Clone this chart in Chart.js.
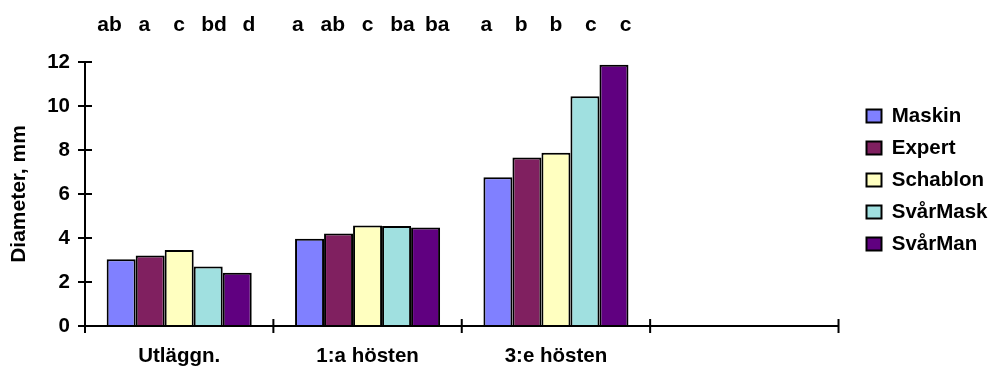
<!DOCTYPE html>
<html>
<head>
<meta charset="utf-8">
<script src="https://cdn.jsdelivr.net/npm/chart.js@4"></script>
<style>
  html, body { margin: 0; padding: 0; background: #fff; }
  #wrap { width: 992px; height: 371px; }
</style>
</head>
<body>
<div id="wrap"><canvas id="c" width="992" height="371"></canvas></div>
<script>
const categories = ['Utläggn.', '1:a hösten', '3:e hösten', ''];
const seriesNames = ['Maskin', 'Expert', 'Schablon', 'SvårMask', 'SvårMan'];
const maskin   = [3.03, 3.97, 6.76, null];
const expert   = [3.21, 4.21, 7.66, null];
const schablon = [3.45, 4.57, 7.87, null];
const svarMask = [2.70, 4.54, 10.44, null];
const svarMan  = [2.42, 4.48, 11.88, null];
const lettersUtlaggn = ['ab', 'a', 'c', 'bd', 'd'];
const letters1aHosten = ['a', 'ab', 'c', 'ba', 'ba'];
const letters3eHosten = ['a', 'b', 'b', 'c', 'c'];
const yTicks = [0, 2, 4, 6, 8, 10, 12];

const seriesValues = [maskin, expert, schablon, svarMask, svarMan];
const seriesColors = ['#8080FF', '#802060', '#FFFFC0', '#A0E0E0', '#600080'];
const groupLetters = [lettersUtlaggn, letters1aHosten, letters3eHosten];

const FONT = "'Liberation Sans', Arial, sans-serif";
const FS = 20.5;

// Axis lines with tick marks that cross the axis, Excel style
const axesPlugin = {
  id: 'crossAxes',
  afterDatasetsDraw(chart) {
    const { ctx, chartArea, scales } = chart;
    const x = scales.x, y = scales.y;
    const y0 = y.getPixelForValue(0);
    ctx.save();
    ctx.strokeStyle = '#000';
    ctx.lineWidth = 2;
    ctx.beginPath();
    ctx.moveTo(chartArea.left, chartArea.top);
    ctx.lineTo(chartArea.left, chartArea.bottom);
    ctx.moveTo(chartArea.left, y0);
    ctx.lineTo(chartArea.right, y0);
    yTicks.forEach(v => {
      const py = y.getPixelForValue(v);
      ctx.moveTo(chartArea.left - 7, py);
      ctx.lineTo(chartArea.left + 7, py);
    });
    const n = categories.length;
    const step = x.getPixelForValue(1) - x.getPixelForValue(0);
    for (let i = 0; i <= n; i++) {
      const px = i < n ? x.getPixelForValue(i) - step / 2 : chartArea.right;
      ctx.moveTo(px, y0 - 7);
      ctx.lineTo(px, y0 + 7);
    }
    ctx.stroke();
    ctx.restore();
  }
};

// Significance letters above each group
const lettersPlugin = {
  id: 'sigLetters',
  afterDatasetsDraw(chart) {
    const { ctx } = chart;
    ctx.save();
    ctx.font = `bold 21px ${FONT}`;
    ctx.fillStyle = '#000';
    ctx.textAlign = 'center';
    ctx.textBaseline = 'alphabetic';
    groupLetters.forEach((letters, g) => {
      const xs = letters.map((_, s) => chart.getDatasetMeta(s).data[g].x);
      const center = (xs[0] + xs[xs.length - 1]) / 2;
      letters.forEach((t, s) => {
        ctx.fillText(t, center + (xs[s] - center) * 1.2, 31);
      });
    });
    ctx.restore();
  }
};

// Place the legend block beside the plot, a little above centre
const legendPlace = {
  id: 'legendPlace',
  afterLayout(chart) {
    const L = chart.legend;
    if (!L) return;
    const h = L.bottom - L.top;
    const w = L.right - L.left;
    L.top = 180 - h / 2;
    L.bottom = L.top + h;
    L.left = 855;
    L.right = L.left + w;
  }
};

new Chart(document.getElementById('c'), {
  type: 'bar',
  data: {
    labels: categories,
    datasets: seriesNames.map((name, i) => ({
      label: name,
      data: seriesValues[i],
      backgroundColor: seriesColors[i],
      borderColor: '#000',
      borderWidth: 2,
      categoryPercentage: 0.77,
      barPercentage: 1.0
    }))
  },
  options: {
    responsive: false,
    animation: false,
    layout: { padding: { top: 62, left: 0, right: 11, bottom: 0 } },
    plugins: {
      tooltip: { enabled: false },
      legend: {
        position: 'right',
        align: 'center',
        labels: {
          boxWidth: 15,
          boxHeight: 13,
          padding: 11.5,
          color: '#000',
          font: { family: FONT, size: FS, weight: 'bold' }
        }
      }
    },
    scales: {
      x: {
        grid: { display: false, drawTicks: false },
        border: { display: false },
        ticks: { color: '#000', padding: 18, maxRotation: 0, font: { family: FONT, size: FS, weight: 'bold' } },
        afterFit(s) { s.height = 45; }
      },
      y: {
        min: 0, max: 12,
        afterBuildTicks(s) { s.ticks = yTicks.map(v => ({ value: v })); },
        grid: { display: false, drawTicks: false },
        border: { display: false },
        ticks: { color: '#000', padding: 15, font: { family: FONT, size: FS, weight: 'bold' } },
        title: {
          display: true,
          text: 'Diameter, mm',
          color: '#000',
          padding: { top: 7, bottom: 0 },
          font: { family: FONT, size: 21, weight: 'bold' }
        },
        afterFit(s) { s.width = 85; }
      }
    }
  },
  plugins: [axesPlugin, lettersPlugin, legendPlace]
});
</script>
</body>
</html>
